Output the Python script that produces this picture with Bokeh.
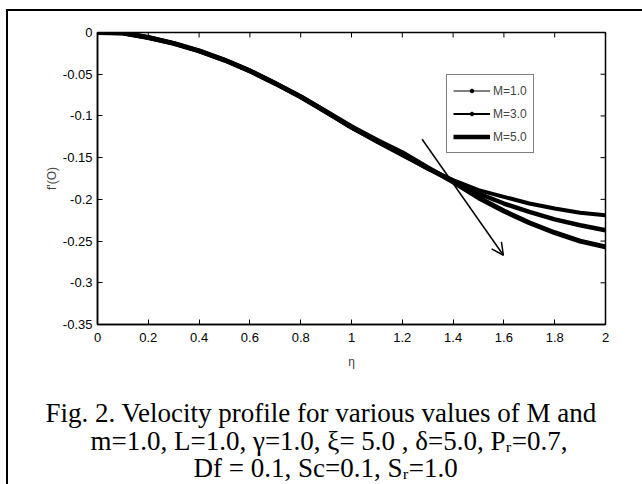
from bokeh.plotting import figure
from bokeh.models import (Range1d, Title, Arrow, OpenHead, Legend, LegendItem,
                          FixedTicker, InlineStyleSheet)
from bokeh.embed import file_html
from bokeh.resources import INLINE

# ---------------- data ----------------
eta = [0.0, 0.1, 0.2, 0.3, 0.4, 0.5, 0.6, 0.7, 0.8, 0.9, 1.0,
       1.1, 1.2, 1.3, 1.4, 1.5, 1.6, 1.7, 1.8, 1.9, 2.0]
m1 = [0.0, -0.0005, -0.006, -0.013, -0.022, -0.033, -0.046, -0.061, -0.077, -0.095, -0.114,
      -0.131, -0.147, -0.163, -0.177, -0.189, -0.197, -0.205, -0.211, -0.216, -0.219]
m3 = [0.0, -0.0005, -0.006, -0.013, -0.022, -0.033, -0.046, -0.061, -0.077, -0.095, -0.114,
      -0.130, -0.146, -0.163, -0.178, -0.193, -0.205, -0.215, -0.224, -0.231, -0.237]
m5 = [0.0, -0.0005, -0.006, -0.013, -0.022, -0.033, -0.046, -0.061, -0.077, -0.095, -0.113,
      -0.129, -0.144, -0.162, -0.179, -0.198, -0.214, -0.228, -0.240, -0.250, -0.257]
series_labels = ["M=1.0", "M=3.0", "M=5.0"]

x_ticks = [0, 0.2, 0.4, 0.6, 0.8, 1, 1.2, 1.4, 1.6, 1.8, 2]
x_tick_labels = ["0", "0.2", "0.4", "0.6", "0.8", "1", "1.2", "1.4", "1.6", "1.8", "2"]
y_ticks = [0, -0.05, -0.1, -0.15, -0.2, -0.25, -0.3, -0.35]
y_tick_labels = ["0", "-0.05", "-0.1", "-0.15", "-0.2", "-0.25", "-0.3", "-0.35"]

caption = ["Fig. 2. Velocity profile for various values of M and",
           "m=1.0, L=1.0, \u03b3=1.0, \u03be= 5.0 , \u03b4=5.0, P\u1d63=0.7,",
           "Df = 0.1, Sc=0.1, S\u1d63=1.0"]

# ---------------- layout constants ----------------
W, H = 642, 484
FL, FR, FT, FB = 97, 605, 32, 324   # frame edges in pixels
X0, X1, Y0, Y1 = 0.0, 2.0, -0.35, 0.0
TICK_PX = 5
dx_tick = TICK_PX * (X1 - X0) / (FR - FL)
dy_tick = TICK_PX * (Y1 - Y0) / (FB - FT)

TICK_FONT = "Liberation Sans Narrow, Liberation Sans, Arial"

frame_css = InlineStyleSheet(css="""
:host::after {
  content: "";
  position: absolute;
  left: 6px; top: 9px; right: 0; bottom: 0;
  border-left: 2px solid black;
  border-top: 2px solid black;
  pointer-events: none;
  z-index: 10;
}
""")

p = figure(width=W, height=H, x_range=Range1d(X0, X1), y_range=Range1d(Y0, Y1),
           output_backend="svg", toolbar_location=None,
           min_border_left=FL, min_border_right=W - FR,
           min_border_top=FT, min_border_bottom=H - FB,
           x_axis_label="\u03b7", y_axis_label="f'(O)",
           stylesheets=[frame_css])
p.grid.visible = False
p.outline_line_color = "black"
p.outline_line_width = 1.5
p.background_fill_color = "white"
p.border_fill_color = "white"

def style_axis(ax, ticks, labels):
    ax.ticker = FixedTicker(ticks=ticks)
    ax.major_label_overrides = {t: l for t, l in zip(ticks, labels)}
    ax.minor_tick_line_color = None
    ax.major_tick_in = TICK_PX
    ax.major_tick_out = 0
    ax.axis_line_color = "black"
    ax.axis_line_width = 1.5
    ax.major_tick_line_width = 1
    ax.major_label_text_font = TICK_FONT
    ax.major_label_text_font_size = "13px"
    ax.major_label_text_color = "black"
    ax.axis_label_text_font = TICK_FONT
    ax.axis_label_text_font_size = "12px"
    ax.axis_label_text_font_style = "normal"

style_axis(p.xaxis[0], x_ticks, x_tick_labels)
style_axis(p.yaxis[0], y_ticks, y_tick_labels)
p.xaxis[0].major_label_standoff = 8
p.xaxis[0].axis_label_standoff = 10
p.yaxis[0].major_label_standoff = 5
p.yaxis[0].axis_label_standoff = 1

# inward ticks on the top and right edges of the box (MATLAB style)
p.segment(x0=x_ticks, y0=[Y1] * len(x_ticks), x1=x_ticks, y1=[Y1 - dy_tick] * len(x_ticks),
          line_color="black", line_width=1)
p.segment(x0=[X1] * len(y_ticks), y0=y_ticks, x1=[X1 - dx_tick] * len(y_ticks), y1=y_ticks,
          line_color="black", line_width=1)

# curves
widths = [4, 4.5, 5]
for ys, w in zip([m1, m3, m5], widths):
    p.line(eta, ys, line_color="black", line_width=w)

# legend proxies (off-range points, styled like the reference legend)
far_x, far_y = [X1 + 10, X1 + 11], [Y1 + 10, Y1 + 10]
l1 = p.line(far_x, far_y, line_color="black", line_width=1)
s1 = p.scatter(far_x, far_y, size=3, color="black")
l2 = p.line(far_x, far_y, line_color="black", line_width=2)
s2 = p.scatter(far_x, far_y, size=4, color="black")
l3 = p.line(far_x, far_y, line_color="black", line_width=4.5)
legend = Legend(items=[LegendItem(label=series_labels[0], renderers=[l1, s1]),
                       LegendItem(label=series_labels[1], renderers=[l2, s2]),
                       LegendItem(label=series_labels[2], renderers=[l3])],
                location=(446 - FL, FB - 153), orientation="vertical")
legend.margin = 0
legend.padding = 6
legend.spacing = 4
legend.glyph_width = 37
legend.glyph_height = 9
legend.label_standoff = 3
legend.label_text_font = TICK_FONT
legend.label_text_font_size = "12px"
legend.label_height = 19
legend.border_line_color = "black"
legend.border_line_width = 1.5
legend.background_fill_alpha = 1
p.add_layout(legend, "center")

# arrow (direction of increasing M)
p.add_layout(Arrow(end=OpenHead(size=12, line_width=1.5, line_color="black"),
                   x_start=1.278, y_start=-0.128, x_end=1.598, y_end=-0.267,
                   line_width=1.5, line_color="black"))

# caption lines: zero-height title panels below the x axis, each text pushed
# down to its own line by a negative standoff (text hangs below the panel edge)
AXIS_PANEL_END = 371      # bottom of the x-axis panel, px
CAP_H = 32                # text box height of a 27px caption line
cap_centers = [411, 439, 466]
left_px = [45, 90, 193]
for txt, cy, lp in zip(caption, cap_centers, left_px):
    so = -int(round(2 * (cy + CAP_H / 2 - AXIS_PANEL_END)))
    p.add_layout(Title(text=txt, align="left", offset=lp - FL, standoff=so,
                       text_font="Liberation Serif", text_font_size="27px",
                       text_font_style="normal", text_color="black"), "below")

open("out.html", "w").write(file_html(p, INLINE))
